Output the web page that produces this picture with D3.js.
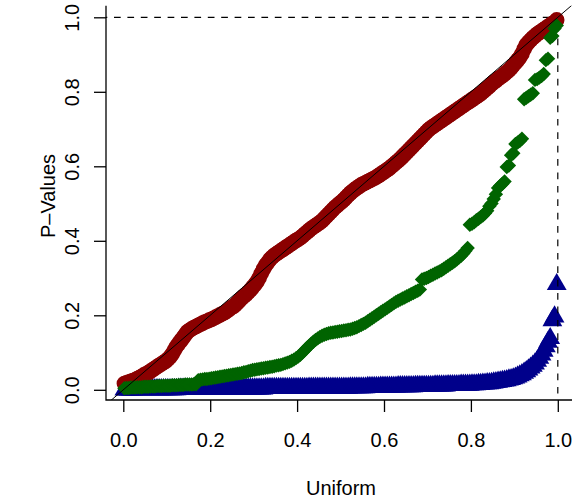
<!DOCTYPE html>
<html>
<head>
<meta charset="utf-8">
<script src="https://cdn.jsdelivr.net/npm/d3@7"></script>
<style>
  body { margin: 0; background: #fff; }
  text { font-family: "Liberation Sans", Arial, sans-serif; fill: #000; }
</style>
</head>
<body>
<svg id="chart" width="572" height="499"></svg>
<script>
// sorted p-values, 200 per series (plotted against uniform quantiles)
const redP = [
  0.017,0.019,0.021,0.023,0.025,0.027,0.030,0.033,0.036,0.040,
  0.043,0.046,0.050,0.054,0.058,0.062,0.066,0.069,0.073,0.077,
  0.082,0.088,0.096,0.106,0.116,0.124,0.132,0.140,0.148,0.156,
  0.160,0.164,0.167,0.170,0.173,0.176,0.179,0.182,0.184,0.187,
  0.189,0.192,0.195,0.198,0.201,0.204,0.207,0.211,0.215,0.220,
  0.223,0.228,0.234,0.240,0.246,0.251,0.256,0.262,0.268,0.275,
  0.282,0.290,0.300,0.312,0.324,0.334,0.342,0.350,0.356,0.361,
  0.365,0.369,0.373,0.377,0.381,0.385,0.389,0.393,0.397,0.401,
  0.404,0.408,0.413,0.418,0.423,0.428,0.433,0.437,0.441,0.445,
  0.449,0.454,0.460,0.466,0.472,0.478,0.484,0.490,0.495,0.500,
  0.505,0.510,0.516,0.522,0.528,0.533,0.538,0.542,0.546,0.550,
  0.553,0.556,0.559,0.562,0.565,0.568,0.571,0.575,0.579,0.583,
  0.587,0.591,0.595,0.600,0.605,0.610,0.615,0.620,0.626,0.632,
  0.638,0.644,0.650,0.656,0.662,0.668,0.674,0.680,0.686,0.692,
  0.698,0.703,0.707,0.711,0.715,0.719,0.723,0.727,0.731,0.735,
  0.739,0.743,0.747,0.751,0.755,0.759,0.763,0.767,0.771,0.775,
  0.779,0.783,0.787,0.791,0.795,0.800,0.805,0.810,0.815,0.821,
  0.826,0.830,0.835,0.839,0.843,0.848,0.853,0.858,0.864,0.871,
  0.878,0.885,0.892,0.902,0.915,0.926,0.933,0.939,0.945,0.950,
  0.955,0.959,0.963,0.967,0.971,0.975,0.979,0.983,0.987,0.993
];
const greenP = [
  0.004,0.005,0.005,0.006,0.006,0.006,0.007,0.007,0.007,0.008,
  0.008,0.008,0.009,0.009,0.009,0.010,0.010,0.010,0.011,0.011,
  0.011,0.011,0.012,0.012,0.012,0.013,0.013,0.013,0.014,0.014,
  0.014,0.014,0.015,0.015,0.026,0.027,0.028,0.029,0.029,0.030,
  0.031,0.032,0.033,0.034,0.035,0.036,0.037,0.038,0.039,0.040,
  0.041,0.042,0.043,0.044,0.045,0.047,0.048,0.050,0.051,0.053,
  0.054,0.055,0.056,0.057,0.058,0.059,0.060,0.061,0.062,0.063,
  0.065,0.066,0.067,0.069,0.071,0.073,0.075,0.078,0.081,0.085,
  0.089,0.094,0.100,0.106,0.112,0.118,0.124,0.129,0.134,0.138,
  0.142,0.145,0.148,0.150,0.152,0.153,0.154,0.155,0.156,0.157,
  0.158,0.159,0.160,0.161,0.162,0.164,0.166,0.168,0.171,0.174,
  0.177,0.180,0.184,0.188,0.192,0.196,0.200,0.204,0.208,0.212,
  0.216,0.220,0.224,0.228,0.232,0.236,0.239,0.242,0.245,0.248,
  0.251,0.254,0.257,0.260,0.263,0.266,0.269,0.296,0.298,0.300,
  0.303,0.306,0.309,0.312,0.315,0.318,0.321,0.325,0.329,0.333,
  0.337,0.341,0.345,0.350,0.355,0.360,0.366,0.373,0.381,0.443,
  0.446,0.450,0.455,0.459,0.464,0.468,0.474,0.481,0.493,0.500,
  0.512,0.525,0.542,0.548,0.553,0.559,0.598,0.602,0.630,0.635,
  0.660,0.664,0.668,0.674,0.780,0.784,0.788,0.792,0.796,0.832,
  0.834,0.838,0.842,0.848,0.885,0.889,0.945,0.950,0.970,0.978
];
const blueP = [
  0.000,0.000,0.000,0.000,0.000,0.001,0.001,0.001,0.001,0.001,
  0.001,0.001,0.001,0.001,0.001,0.001,0.001,0.001,0.001,0.001,
  0.001,0.001,0.001,0.001,0.001,0.002,0.002,0.002,0.002,0.002,
  0.002,0.002,0.002,0.002,0.002,0.002,0.002,0.002,0.002,0.002,
  0.002,0.002,0.002,0.002,0.002,0.003,0.003,0.003,0.003,0.003,
  0.003,0.003,0.003,0.003,0.003,0.003,0.003,0.003,0.003,0.003,
  0.003,0.003,0.003,0.003,0.003,0.004,0.004,0.004,0.004,0.004,
  0.004,0.004,0.004,0.004,0.004,0.004,0.004,0.004,0.004,0.004,
  0.004,0.004,0.004,0.004,0.004,0.005,0.005,0.005,0.005,0.005,
  0.005,0.005,0.005,0.005,0.005,0.005,0.005,0.005,0.005,0.005,
  0.005,0.005,0.005,0.005,0.006,0.006,0.006,0.006,0.006,0.006,
  0.006,0.006,0.007,0.007,0.007,0.007,0.007,0.007,0.008,0.008,
  0.008,0.008,0.008,0.008,0.008,0.008,0.009,0.009,0.009,0.009,
  0.009,0.009,0.009,0.009,0.010,0.010,0.010,0.010,0.010,0.010,
  0.010,0.010,0.010,0.011,0.011,0.011,0.011,0.011,0.011,0.012,
  0.012,0.012,0.012,0.012,0.012,0.013,0.013,0.013,0.013,0.013,
  0.014,0.014,0.014,0.015,0.015,0.016,0.016,0.017,0.017,0.018,
  0.019,0.020,0.021,0.022,0.023,0.024,0.025,0.027,0.028,0.030,
  0.032,0.035,0.038,0.041,0.045,0.049,0.054,0.059,0.064,0.070,
  0.077,0.085,0.094,0.104,0.116,0.128,0.138,0.186,0.196,0.283
];
const xTicks = [0, 0.2, 0.4, 0.6, 0.8, 1.0];
const yTicks = [0, 0.2, 0.4, 0.6, 0.8, 1.0];
const xTitle = "Uniform";
const yTitle = "P\u2013Values";

const svg = d3.select("#chart");
const x = d3.scaleLinear().domain([0, 1]).range([123.3, 557.8]);
const y = d3.scaleLinear().domain([0, 1]).range([389.8, 17.3]);
// plot region edges (pixels)
const boxL = 106, boxR = 576, boxT = 5.7, boxB = 400;

svg.append("clipPath").attr("id", "plotclip")
  .append("rect").attr("x", boxL).attr("y", boxT)
  .attr("width", boxR - boxL).attr("height", boxB - boxT);

const plot = svg.append("g").attr("clip-path", "url(#plotclip)");

// theoretical uniform quantiles for the x position of each sorted p-value
const quant = (arr) => arr.map((p, i) => ({u: (i + 0.5) / arr.length, p: p}));

function drawSeries(arr, type, size, color, rot) {
  plot.append("g").selectAll("path")
    .data(quant(arr))
    .enter().append("path")
    .attr("d", d3.symbol().type(type).size(size))
    .attr("transform", d => "translate(" + x(d.u) + "," + y(d.p) + ")" + (rot ? " rotate(45)" : ""))
    .attr("fill", color);
}

drawSeries(blueP, d3.symbolTriangle, 170, "#00008B", false);

// reference lines at p = 1 and u = 1
plot.append("line")
  .attr("x1", boxL - 5.4).attr("x2", x(1))
  .attr("y1", y(1)).attr("y2", y(1))
  .attr("stroke", "#000").attr("stroke-width", 1.2)
  .attr("stroke-dasharray", "6.7,6.7");
plot.append("line")
  .attr("x1", x(1)).attr("x2", x(1))
  .attr("y1", boxB + 7).attr("y2", y(1))
  .attr("stroke", "#000").attr("stroke-width", 1.2)
  .attr("stroke-dasharray", "6.7,6.7");

drawSeries(redP, d3.symbolCircle, Math.PI * 7.8 * 7.8, "#8B0000", false);
drawSeries(greenP, d3.symbolSquare, 104, "#006400", true);

// y = x line
plot.append("line")
  .attr("x1", x(-0.1)).attr("y1", y(-0.1))
  .attr("x2", x(1.1)).attr("y2", y(1.1))
  .attr("stroke", "#000").attr("stroke-width", 1);

// axes
const xAxis = svg.append("g")
  .attr("transform", "translate(0," + boxB + ")")
  .call(d3.axisBottom(x).tickValues(xTicks).tickSize(12).tickPadding(20.5)
    .tickFormat(d3.format(".1f")));
xAxis.select(".domain").remove();
xAxis.selectAll("line").attr("stroke-width", 1.3);
xAxis.selectAll("text").attr("font-size", 20).attr("fill", "#000");

const yAxis = svg.append("g")
  .attr("transform", "translate(" + boxL + ",0)")
  .call(d3.axisLeft(y).tickValues(yTicks).tickSize(12)
    .tickFormat(d3.format(".1f")));
yAxis.select(".domain").remove();
yAxis.selectAll("line").attr("stroke-width", 1.3);
yAxis.selectAll("text")
  .attr("font-size", 20).attr("fill", "#000")
  .attr("x", null).attr("dy", null)
  .attr("text-anchor", "middle")
  .attr("transform", "translate(-27,0) rotate(-90)");

// L-shaped box
svg.append("path")
  .attr("d", "M" + boxL + "," + boxT + "V" + boxB + "H" + boxR)
  .attr("fill", "none").attr("stroke", "#000").attr("stroke-width", 1.3);

svg.append("text")
  .attr("x", (boxL + boxR) / 2).attr("y", 495)
  .attr("text-anchor", "middle").attr("font-size", 20)
  .text(xTitle);
svg.append("text")
  .attr("transform", "translate(55,196) rotate(-90)")
  .attr("text-anchor", "middle").attr("font-size", 20)
  .text(yTitle);
</script>
</body>
</html>
